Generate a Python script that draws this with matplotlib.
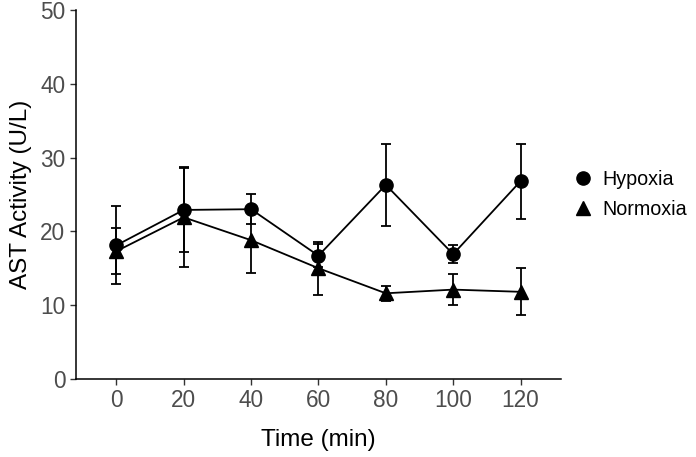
import matplotlib
matplotlib.use("Agg")
import matplotlib.pyplot as plt
from matplotlib.lines import Line2D

plt.rcParams['font.family'] = ['Liberation Sans', 'DejaVu Sans']

time = [0, 20, 40, 60, 80, 100, 120]
hypoxia = [18.1, 22.9, 23.0, 16.7, 26.3, 16.9, 26.8]
hypoxia_err = [5.3, 5.7, 2.0, 1.6, 5.6, 1.2, 5.1]
normoxia = [17.3, 21.9, 18.8, 15.0, 11.6, 12.1, 11.8]
normoxia_err = [3.1, 6.8, 4.4, 3.6, 1.0, 2.1, 3.2]
xticks = [0, 20, 40, 60, 80, 100, 120]
yticks = [0, 10, 20, 30, 40, 50]
series_names = ['Hypoxia', 'Normoxia']

fig = plt.figure(figsize=(6.96, 4.57), dpi=100)
ax = fig.add_axes([0.109, 0.171, 0.697, 0.807])

ax.errorbar(time, hypoxia, yerr=hypoxia_err, color='black', marker='o',
            markersize=9.5, linewidth=1.3, elinewidth=1.3, capsize=3.6,
            capthick=1.3, zorder=3)
ax.errorbar(time, normoxia, yerr=normoxia_err, color='black', marker='^',
            markersize=10.5, linewidth=1.3, elinewidth=1.3, capsize=3.6,
            capthick=1.3, zorder=3)

ax.set_xlim(-12, 132)
ax.set_ylim(0, 50)
ax.set_xticks(xticks)
ax.set_yticks(yticks)
ax.tick_params(axis='both', labelsize=16.3, labelcolor='#4D4D4D', length=4,
               width=1, color='#333333')
for s in ['top', 'right']:
    ax.spines[s].set_visible(False)
for s in ['left', 'bottom']:
    ax.spines[s].set_linewidth(1.1)
    ax.spines[s].set_color('black')

ax.set_xlabel('Time (min)', fontsize=17.5, labelpad=12)
ax.set_ylabel('AST Activity (U/L)', fontsize=17.5, labelpad=6)

handles = [Line2D([], [], color='black', marker='o', markersize=9.5, linestyle='None'),
           Line2D([], [], color='black', marker='^', markersize=10.5, linestyle='None')]
fig.legend(handles, series_names, loc='center left', bbox_to_anchor=(0.826, 0.574),
           frameon=False, fontsize=14.2, handlelength=0.8, handletextpad=0.6,
           labelspacing=0.55, borderaxespad=0, borderpad=0)

fig.savefig('out.png', dpi=100)
